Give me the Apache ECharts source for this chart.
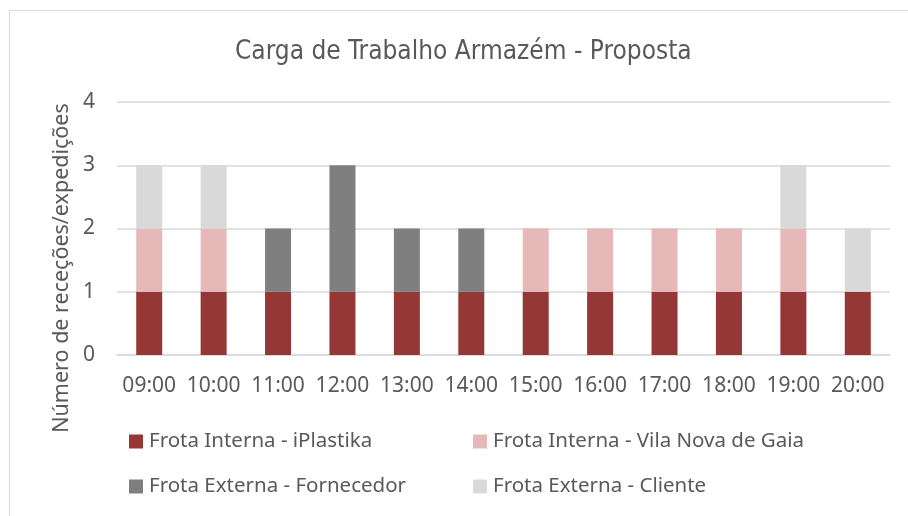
<!DOCTYPE html>
<html>
<head>
<meta charset="utf-8">
<script src="https://cdn.jsdelivr.net/npm/echarts@6/dist/echarts.min.js"></script>
<style>
  html, body { margin: 0; padding: 0; background: #fff; }
  #chart { width: 908px; height: 516px; }
</style>
</head>
<body>
<div id="chart"></div>
<script>
// categorias (horas)
const horas = ['09:00', '10:00', '11:00', '12:00', '13:00', '14:00', '15:00', '16:00', '17:00', '18:00', '19:00', '20:00']
const yTicks = [0, 1, 2, 3, 4]

// series
const iPlastika = [1, 1, 1, 1, 1, 1, 1, 1, 1, 1, 1, 1]
const vilaNovaGaia = [1, 1, 0, 0, 0, 0, 1, 1, 1, 1, 1, 0]
const fornecedor = [0, 0, 1, 2, 1, 1, 0, 0, 0, 0, 0, 0]
const cliente = [1, 1, 0, 0, 0, 0, 0, 0, 0, 0, 1, 1]

const nomes = [
  'Frota Interna - iPlastika',
  'Frota Interna - Vila Nova de Gaia',
  'Frota Externa - Fornecedor',
  'Frota Externa - Cliente'
]
const cores = ['#953735', '#E6B9B8', '#7F7F7F', '#D9D9D9']
const valores = [iPlastika, vilaNovaGaia, fornecedor, cliente]

const font = '"Noto Sans", "Open Sans", sans-serif'
const txt = '#595959'

// posições das legendas (2 colunas)
const legPos = [
  { left: 129, top: 431 },
  { left: 473, top: 431 },
  { left: 129, top: 476 },
  { left: 473, top: 476 }
]

const chart = echarts.init(document.getElementById('chart'))
chart.setOption({
  animation: false,
  color: cores,
  title: {
    text: 'Carga de Trabalho Armazém - Proposta',
    left: 235,
    top: 39,
    padding: 0,
    textStyle: {
      fontFamily: '"DejaVu Sans Condensed", sans-serif',
      fontWeight: 'normal',
      fontSize: 26,
      color: txt
    }
  },
  graphic: [
    {
      type: 'rect',
      shape: { x: 9.5, y: 10.5, width: 920, height: 540 },
      style: { fill: 'none', stroke: '#D9D9D9', lineWidth: 1 },
      silent: true
    },
    {
      type: 'text',
      x: 62,
      y: 268,
      rotation: Math.PI / 2,
      style: {
        text: 'Número de receções/expedições',
        fontFamily: font,
        fontSize: 21.5,
        fill: txt,
        align: 'center',
        verticalAlign: 'middle'
      }
    }
  ],
  legend: nomes.map((n, i) => ({
    data: [n],
    left: legPos[i].left,
    top: legPos[i].top,
    icon: 'rect',
    itemWidth: 14,
    itemHeight: 14,
    itemGap: 0,
    padding: 0,
    textStyle: { fontFamily: font, fontSize: 20.5, color: txt, padding: [0, 0, 0, 1] }
  })),
  grid: { left: 117, right: 18, top: 102, bottom: 161 },
  xAxis: {
    type: 'category',
    data: horas,
    axisTick: { show: false },
    axisLine: { lineStyle: { color: '#D9D9D9', width: 1.5 } },
    axisLabel: { fontFamily: font, fontSize: 21, color: txt, margin: 21, interval: 0 }
  },
  yAxis: {
    type: 'value',
    min: yTicks[0],
    max: yTicks[yTicks.length - 1],
    interval: 1,
    axisLine: { show: false },
    axisTick: { show: false },
    splitLine: { lineStyle: { color: '#D9D9D9', width: 1.5 } },
    axisLabel: { fontFamily: font, fontSize: 21, color: txt, margin: 22 }
  },
  series: valores.map((d, i) => ({
    name: nomes[i],
    type: 'bar',
    stack: 'total',
    barWidth: 26,
    data: d
  }))
})
</script>
</body>
</html>
